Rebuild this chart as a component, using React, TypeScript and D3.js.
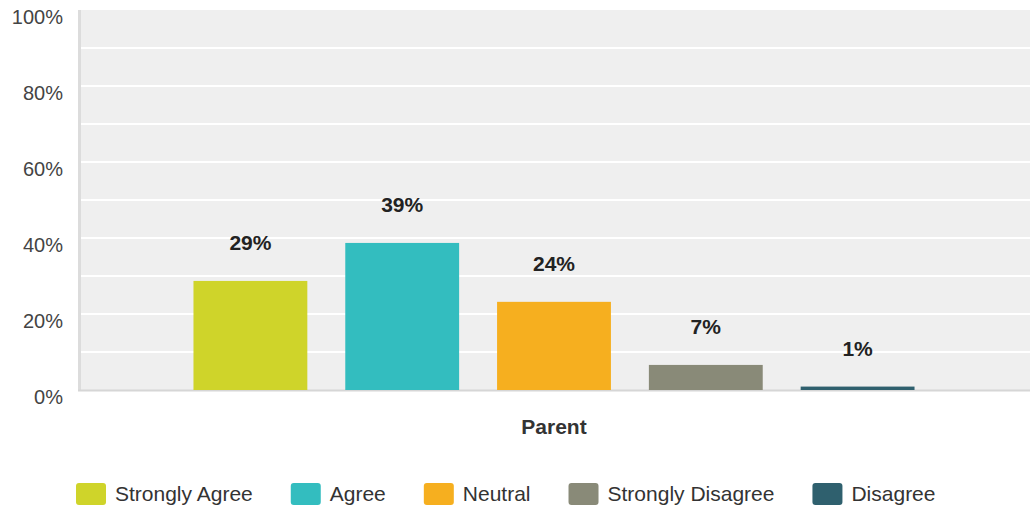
import React, { useEffect, useRef } from "react";
import * as d3 from "d3";

const categories = ["Parent"];
const seriesNames = ["Strongly Agree", "Agree", "Neutral", "Strongly Disagree", "Disagree"];
const seriesValues = [28.7, 38.7, 23.2, 6.6, 0.9];
const valueLabels = ["29%", "39%", "24%", "7%", "1%"];
const seriesColors = ["#cfd42a", "#33bdbf", "#f6af1f", "#898a78", "#2f606e"];
const yTicks = [0, 20, 40, 60, 80, 100];
const yGrid = [10, 20, 30, 40, 50, 60, 70, 80, 90];

const W = 1034;
const H = 507;
const FONT = "'Liberation Sans', Arial, Helvetica, sans-serif";

export default function App() {
  const ref = useRef<SVGSVGElement | null>(null);

  useEffect(() => {
    const svg = d3.select(ref.current);
    svg.selectAll("*").remove();

    const left = 78;
    const right = 1030;
    const top = 10;
    const bottom = 390;

    const y = d3.scaleLinear().domain([0, 100]).range([bottom, top]);
    const x0 = d3.scaleBand<string>().domain(categories).range([left, right]).padding(0.1128);
    const x1 = d3
      .scaleBand<string>()
      .domain(seriesNames)
      .range([0, x0.bandwidth()])
      .paddingInner(0.25)
      .paddingOuter(0.125);

    svg
      .append("rect")
      .attr("x", left)
      .attr("y", top)
      .attr("width", right - left)
      .attr("height", bottom - top)
      .attr("fill", "#efefef");

    svg
      .append("g")
      .selectAll("line")
      .data(yGrid)
      .join("line")
      .attr("x1", left + 3)
      .attr("x2", right)
      .attr("y1", (d) => y(d))
      .attr("y2", (d) => y(d))
      .attr("stroke", "#ffffff")
      .attr("stroke-width", 2);

    svg
      .append("rect")
      .attr("x", left)
      .attr("y", top)
      .attr("width", 3)
      .attr("height", bottom - top + 1)
      .attr("fill", "#dcdcdc");
    svg
      .append("line")
      .attr("x1", left)
      .attr("x2", right)
      .attr("y1", bottom + 0.5)
      .attr("y2", bottom + 0.5)
      .attr("stroke", "#d6d6d6")
      .attr("stroke-width", 2);

    svg
      .append("g")
      .selectAll("text")
      .data(yTicks)
      .join("text")
      .attr("x", 63)
      .attr("y", (d) => y(d) + 7)
      .attr("text-anchor", "end")
      .attr("dominant-baseline", "central")
      .attr("font-family", FONT)
      .attr("font-size", 20)
      .attr("fill", "#444")
      .text((d) => `${d}%`);

    const rows = seriesNames.map((name, i) => ({
      name,
      value: seriesValues[i],
      label: valueLabels[i],
      color: seriesColors[i],
    }));

    const g = svg.append("g").attr("transform", `translate(${x0(categories[0])},0)`);
    g.selectAll("rect.bar")
      .data(rows)
      .join("rect")
      .attr("class", "bar")
      .attr("x", (d) => x1(d.name)!)
      .attr("width", x1.bandwidth())
      .attr("y", (d) => y(d.value))
      .attr("height", (d) => y(0) - y(d.value))
      .attr("fill", (d) => d.color);

    g.selectAll("text.val")
      .data(rows)
      .join("text")
      .attr("class", "val")
      .attr("x", (d) => x1(d.name)! + x1.bandwidth() / 2)
      .attr("y", (d) => y(d.value) - 38)
      .attr("text-anchor", "middle")
      .attr("dominant-baseline", "central")
      .attr("font-family", FONT)
      .attr("font-size", 21)
      .attr("font-weight", "bold")
      .attr("fill", "#222")
      .text((d) => d.label);

    svg
      .append("text")
      .attr("x", x0(categories[0])! + x0.bandwidth() / 2)
      .attr("y", 426)
      .attr("text-anchor", "middle")
      .attr("dominant-baseline", "central")
      .attr("font-family", FONT)
      .attr("font-size", 21)
      .attr("font-weight", "bold")
      .attr("fill", "#333")
      .text(categories[0]);

    const lg = svg.append("g");
    let cx = 76;
    rows.forEach((d) => {
      const item = lg.append("g").attr("transform", `translate(${cx},0)`);
      item
        .append("rect")
        .attr("x", 0)
        .attr("y", 483)
        .attr("width", 30)
        .attr("height", 22)
        .attr("rx", 3)
        .attr("fill", d.color);
      const t = item
        .append("text")
        .attr("x", 39)
        .attr("y", 493)
        .attr("dominant-baseline", "central")
        .attr("font-family", FONT)
        .attr("font-size", 21)
        .attr("fill", "#333")
        .text(d.name);
      const tw = (t.node() as SVGTextElement).getComputedTextLength();
      cx += 39 + tw + 38;
    });
  }, []);

  return (
    <svg
      ref={ref}
      width={W}
      height={H}
      style={{ position: "absolute", left: 0, top: 0, background: "#fff" }}
    />
  );
}
